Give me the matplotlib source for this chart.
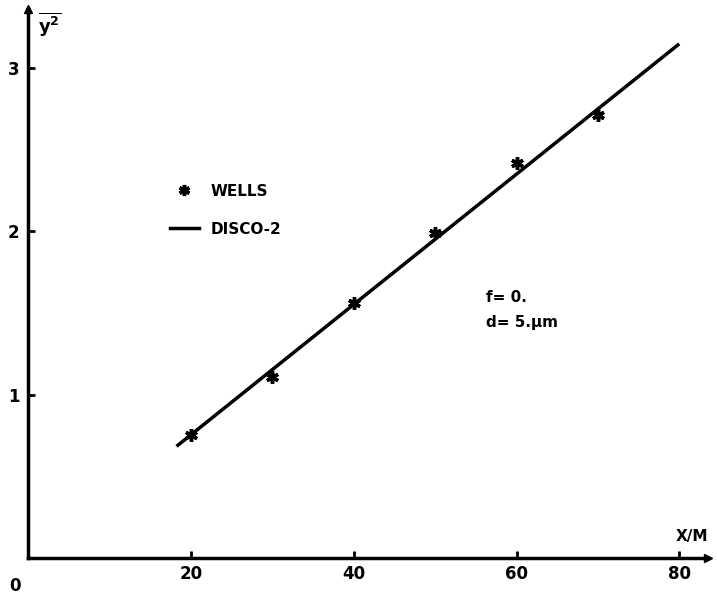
import matplotlib
matplotlib.use('Agg')
import matplotlib.pyplot as plt
from matplotlib.lines import Line2D

# donnees
wells_x = [20, 30, 40, 50, 60, 70]
wells_y = [0.75, 1.11, 1.56, 1.99, 2.42, 2.71]
disco_x = [18.4, 79.8]
disco_y = [0.69, 3.14]
x_ticks = [20, 40, 60, 80]
y_ticks = [1, 2, 3]

plt.rcParams['font.family'] = ['DejaVu Sans']
plt.rcParams['font.weight'] = 'bold'
plt.rcParams['font.size'] = 12

W, H = 717, 596
fig = plt.figure(figsize=(W / 100, H / 100), dpi=100)
# axes: origine a (28, 558) px, fin a (708, 9) px
ax = fig.add_axes([28 / W, 38 / H, 680 / W, 549 / H])
ax.set_xlim(0, 83.5)
ax.set_ylim(0, 3.36)

for s in ['top', 'right']:
    ax.spines[s].set_visible(False)
for s in ['left', 'bottom']:
    ax.spines[s].set_linewidth(2.5)

# fleches au bout des axes
ax.plot([83.5], [0], marker='>', color='black', markersize=6, clip_on=False)
ax.plot([0], [3.36], marker='^', color='black', markersize=6, clip_on=False)

ax.plot(disco_x, disco_y, color='black', linewidth=2.5, clip_on=False)
ax.plot(wells_x, wells_y, linestyle='none', marker=(6, 2, 0), markersize=9,
        markeredgewidth=2.5, color='black')

ax.set_xticks(x_ticks)
ax.set_yticks(y_ticks)
ax.tick_params(axis='both', direction='in', length=5, width=2, labelsize=12)
ax.tick_params(axis='x', pad=5)
ax.tick_params(axis='y', pad=6)
for lab in ax.get_xticklabels() + ax.get_yticklabels():
    lab.set_fontweight('bold')

fig.text(15 / W, 1 - 586 / H, '0', fontsize=12, fontweight='bold', ha='center', va='center')
fig.text(692 / W, 1 - 537 / H, 'X/M', fontsize=11, fontweight='bold', ha='center', va='center')
fig.text(50 / W, 1 - 24 / H, r'$\mathbf{\overline{y^2}}$', fontsize=13, ha='center', va='center')

handles = [Line2D([], [], linestyle='none', marker=(6, 2, 0), markersize=8,
                  markeredgewidth=2.5, color='black'),
           Line2D([], [], color='black', linewidth=2.5)]
leg = ax.legend(handles, ['WELLS', 'DISCO-2'], loc='upper left', frameon=False,
                bbox_to_anchor=(156 / W, 1 - 170 / H), bbox_transform=fig.transFigure,
                handlelength=1.9, handletextpad=0.8, labelspacing=1.5,
                prop={'weight': 'bold', 'size': 11})

fig.text(486 / W, 1 - 297 / H, 'f= 0.', fontsize=11, fontweight='bold', va='center')
fig.text(486 / W, 1 - 322 / H, 'd= 5.µm', fontsize=11, fontweight='bold', va='center')

fig.savefig('out.png', dpi=100)
